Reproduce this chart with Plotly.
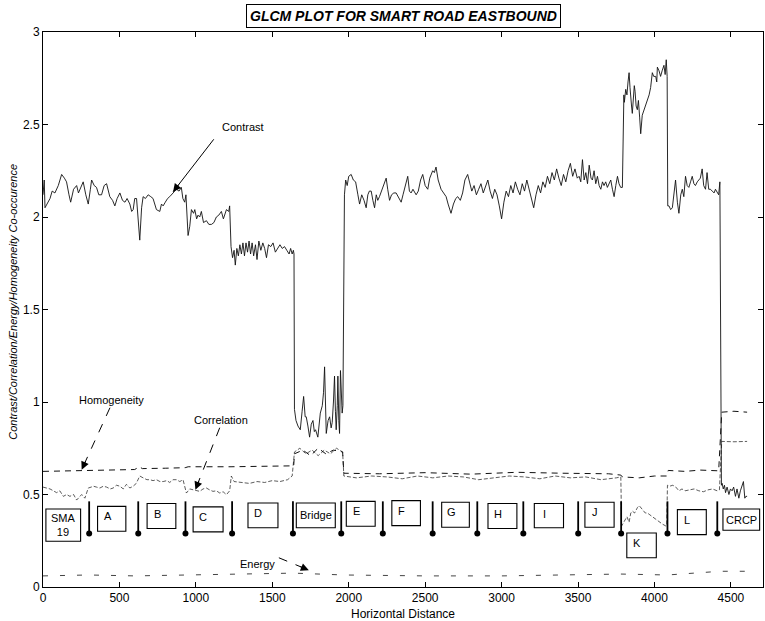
import math
import plotly.graph_objects as go

# ---------------- GLCM measures along the eastbound lane ----------------
contrast_x = [
    0, 8, 13, 30, 46, 60, 78, 100, 122, 140, 154, 170, 181, 200, 220, 232, 242, 263, 280, 296,
    310, 318, 335, 350, 365, 383, 400, 416, 437, 455, 470, 485, 503, 520, 536, 550, 568, 580, 590, 600,
    612, 622, 633, 645, 655, 670, 688, 705, 720, 742, 764, 775, 786, 800, 815, 829, 850, 873, 890, 905,
    915, 927, 935, 949, 960, 971, 985, 993, 1005, 1014, 1025, 1036, 1050, 1069, 1085, 1102, 1118, 1134, 1150, 1167,
    1180, 1200, 1215, 1221,
    1230, 1240, 1250, 1258, 1268, 1278, 1288, 1298, 1308, 1318, 1328, 1338, 1348, 1358, 1368, 1378, 1390, 1400,
    1412, 1425, 1438, 1450, 1462, 1475, 1490, 1505, 1520, 1535, 1550, 1565, 1580, 1595, 1610, 1620, 1630, 1638,
    1642, 1645, 1655, 1668, 1683, 1695, 1705, 1715, 1722, 1733, 1744, 1755, 1766, 1775, 1783, 1798, 1805, 1814,
    1827, 1835, 1842, 1848, 1853, 1865, 1875, 1885, 1892, 1900, 1907, 1913, 1918, 1925, 1929, 1935, 1940, 1946,
    1952, 1957, 1962,
    1968, 1972, 1980, 1990, 2000, 2016, 2030, 2045, 2060, 2071, 2085, 2100, 2114, 2125, 2135, 2147, 2158, 2169,
    2180, 2190, 2201, 2215, 2230, 2245, 2255, 2267, 2280, 2295, 2310, 2325, 2343, 2355, 2370, 2386, 2397, 2408,
    2420, 2441, 2455, 2470, 2484, 2500, 2517, 2530, 2549, 2560, 2571, 2585, 2604, 2620, 2637, 2650, 2669, 2685,
    2700, 2713, 2730, 2745, 2760, 2778, 2790, 2805, 2820, 2835, 2850, 2865, 2880, 2895, 2910, 2925, 2940, 2955,
    2970, 2985, 3000, 3015, 3030, 3045, 3060, 3075, 3090, 3105, 3120, 3135, 3150, 3165, 3180, 3195, 3210, 3225,
    3240, 3255, 3270, 3285, 3300, 3315, 3330, 3345, 3360, 3375, 3390, 3405, 3420, 3435, 3450, 3465, 3480, 3495,
    3507, 3518, 3529, 3540, 3551, 3562, 3573, 3585, 3594, 3605, 3616, 3627, 3638, 3649, 3660, 3670, 3681, 3692,
    3703, 3714, 3725, 3736, 3747, 3758, 3768, 3779, 3790,
    3800, 3803, 3812, 3820, 3827, 3834, 3840, 3845, 3850, 3855, 3862, 3868, 3873, 3880, 3888, 3895, 3903, 3910,
    3920, 3932, 3940, 3954, 3965, 3975, 3986, 3995, 4008, 4015, 4019, 4030, 4040, 4050, 4062, 4070, 4077, 4083,
    4087, 4095, 4106, 4117, 4128, 4138, 4150, 4160, 4172, 4182, 4192, 4203, 4214, 4225, 4236, 4247, 4258, 4268,
    4280, 4290, 4300, 4312, 4322, 4334, 4344, 4355, 4366, 4378, 4390, 4399, 4410, 4420, 4428,
    4433, 4438, 4443, 4450, 4458, 4465, 4475, 4487, 4497, 4508, 4518, 4530, 4540, 4552, 4562, 4574, 4582, 4591,
    4598, 4606,
]
contrast_y = [
    2.12, 2.20, 2.05, 2.08, 2.10, 2.14, 2.13, 2.17, 2.23, 2.21, 2.19, 2.12, 2.08, 2.15, 2.17, 2.13, 2.15, 2.19, 2.12, 2.07,
    2.15, 2.20, 2.17, 2.16, 2.12, 2.12, 2.17, 2.18, 2.11, 2.09, 2.06, 2.10, 2.13, 2.09, 2.08, 2.10, 2.07, 2.03, 2.04, 2.10,
    2.10, 2.00, 1.875, 2.05, 2.11, 2.10, 2.12, 2.11, 2.10, 2.04, 2.03, 2.07, 2.06, 2.08, 2.10, 2.11, 2.13, 2.15, 2.14, 2.16,
    2.10, 2.08, 2.12, 1.90, 1.95, 2.04, 2.02, 2.04, 1.99, 2.01, 2.00, 2.03, 1.97, 1.98, 1.96, 1.96, 1.97, 2.00, 2.01, 2.03,
    1.99, 2.04, 2.03, 2.06,
    1.84, 1.78, 1.82, 1.74, 1.83, 1.79, 1.85, 1.80, 1.86, 1.79, 1.86, 1.81, 1.87, 1.80, 1.86, 1.79, 1.85, 1.77,
    1.87, 1.82, 1.86, 1.83, 1.78, 1.85, 1.84, 1.86, 1.81, 1.83, 1.85, 1.83, 1.84, 1.82, 1.80, 1.83, 1.80, 1.82,
    1.80, 0.96, 0.90, 0.87, 0.85, 0.95, 1.03, 0.92, 0.92, 0.87, 0.81, 0.88, 0.90, 0.84, 0.85, 0.81, 0.86, 0.94,
    0.98, 1.05, 1.19, 0.95, 0.83, 0.90, 0.92, 0.86, 0.89, 1.00, 1.14, 0.95, 0.85, 0.98, 1.14, 0.90, 0.83, 1.17,
    0.95, 0.94, 0.98,
    2.10, 2.12, 2.20, 2.17, 2.22, 2.23, 2.20, 2.19, 2.12, 2.07, 2.12, 2.09, 2.05, 2.12, 2.14, 2.14, 2.09, 2.05,
    2.12, 2.09, 2.11, 2.14, 2.17, 2.21, 2.15, 2.09, 2.12, 2.13, 2.13, 2.11, 2.08, 2.12, 2.17, 2.22, 2.14, 2.13,
    2.15, 2.12, 2.14, 2.20, 2.23, 2.17, 2.15, 2.21, 2.25, 2.24, 2.27, 2.20, 2.15, 2.13, 2.11, 2.07, 2.02, 2.07,
    2.10, 2.11, 2.09, 2.13, 2.20, 2.23, 2.19, 2.14, 2.17, 2.12, 2.15, 2.18, 2.13, 2.16, 2.20, 2.14, 2.10, 2.15,
    2.12, 2.06, 1.99, 2.08, 2.14, 2.11, 2.17, 2.13, 2.19, 2.15, 2.12, 2.18, 2.14, 2.20, 2.15, 2.10, 2.05, 2.12,
    2.17, 2.13, 2.19, 2.16, 2.22, 2.18, 2.24, 2.20, 2.26, 2.21, 2.17, 2.23, 2.19, 2.25, 2.29, 2.22, 2.26, 2.21,
    2.22, 2.19, 2.31, 2.20, 2.24, 2.18, 2.28, 2.21, 2.20, 2.25, 2.18, 2.22, 2.17, 2.15, 2.19, 2.17, 2.19, 2.16,
    2.18, 2.20, 2.15, 2.11, 2.17, 2.22, 2.18, 2.16, 2.16,
    2.66, 2.62, 2.69, 2.66, 2.73, 2.78, 2.70, 2.63, 2.60, 2.56, 2.62, 2.71, 2.68, 2.60, 2.58, 2.63, 2.54, 2.45,
    2.55, 2.58, 2.60, 2.63, 2.66, 2.70, 2.78, 2.76, 2.76, 2.73, 2.81, 2.79, 2.76, 2.79, 2.82, 2.77, 2.85, 2.76,
    2.06, 2.06, 2.04, 2.05, 2.12, 2.20, 2.08, 2.02, 2.12, 2.15, 2.11, 2.22, 2.17, 2.16, 2.19, 2.22, 2.18, 2.17,
    2.19, 2.20, 2.21, 2.26, 2.17, 2.15, 2.24, 2.15, 2.15, 2.14, 2.13, 2.15, 2.13, 2.12, 2.19,
    0.90, 0.55, 0.56, 0.53, 0.55, 0.51, 0.54, 0.50, 0.53, 0.52, 0.54, 0.49, 0.53, 0.48, 0.52, 0.55, 0.57, 0.48,
    0.49, 0.49,
]

homogeneity_x = [0, 150, 300, 450, 600, 630, 650, 800, 930, 950, 1100, 1230, 1400, 1640,
                 1645, 1700, 1750, 1800, 1850, 1900, 1960,
                 1968, 2200, 2500, 2800, 3100, 3400, 3700, 3780,
                 3790, 3900, 4000, 4080,
                 4090, 4200, 4300, 4420,
                 4440, 4520, 4606]
homogeneity_y = [0.625, 0.628, 0.630, 0.632, 0.635, 0.650, 0.640, 0.642, 0.645, 0.650, 0.648, 0.650, 0.652, 0.655,
                 0.72, 0.74, 0.71, 0.75, 0.72, 0.74, 0.73,
                 0.615, 0.612, 0.618, 0.610, 0.620, 0.615, 0.612, 0.605,
                 0.595, 0.590, 0.600, 0.600,
                 0.630, 0.625, 0.632, 0.628,
                 0.945, 0.950, 0.945]

correlation_x = [0, 46, 89, 110, 133, 155, 176, 200, 220, 240, 253, 274, 296, 315, 329, 350, 372, 395, 416, 440,
                 459, 480, 503, 525, 546, 568, 590, 610, 633, 655, 680, 699, 720, 742, 765, 786, 810, 829, 850, 873,
                 895, 916, 938, 960, 982, 1003, 1025, 1047, 1069, 1090, 1112, 1134, 1156, 1178, 1200, 1221,
                 1232, 1250, 1300, 1350, 1400, 1450, 1500, 1550, 1600, 1630,
                 1645, 1680, 1720, 1760, 1800, 1840, 1880, 1920, 1960,
                 1968, 2050, 2150, 2250, 2350, 2450, 2550, 2650, 2750, 2850, 2950, 3050, 3150, 3250, 3350, 3450,
                 3550, 3650, 3750, 3780,
                 3785, 3800, 3820, 3834, 3845, 3856, 3870, 3889, 3900, 3940, 3954, 3970, 3986, 4000, 4019, 4035,
                 4052, 4074, 4080,
                 4085, 4100, 4120, 4140, 4160, 4180, 4200, 4230, 4260, 4290, 4320, 4350, 4380, 4410, 4425,
                 4440, 4520, 4606]
correlation_y = [0.54, 0.53, 0.51, 0.52, 0.49, 0.50, 0.49, 0.50, 0.47, 0.49, 0.50, 0.48, 0.535, 0.54, 0.545, 0.54, 0.535, 0.545, 0.54, 0.53,
                 0.535, 0.55, 0.545, 0.53, 0.555, 0.535, 0.545, 0.56, 0.60, 0.59, 0.58, 0.58, 0.575, 0.58, 0.57, 0.57, 0.575, 0.565, 0.58, 0.58,
                 0.57, 0.58, 0.508, 0.53, 0.526, 0.52, 0.517, 0.53, 0.535, 0.525, 0.517, 0.52, 0.508, 0.515, 0.499, 0.52,
                 0.60, 0.57, 0.565, 0.56, 0.57, 0.565, 0.575, 0.57, 0.58, 0.60,
                 0.73, 0.75, 0.72, 0.74, 0.71, 0.74, 0.72, 0.75, 0.73,
                 0.60, 0.59, 0.60, 0.595, 0.585, 0.60, 0.59, 0.60, 0.595, 0.58, 0.59, 0.60, 0.595, 0.585, 0.60, 0.59,
                 0.595, 0.58, 0.59, 0.595,
                 0.33, 0.35, 0.38, 0.35, 0.40, 0.41, 0.40, 0.43, 0.44, 0.40, 0.40, 0.39, 0.38, 0.37, 0.36, 0.35,
                 0.34, 0.33, 0.33,
                 0.55, 0.545, 0.55, 0.54, 0.52, 0.53, 0.52, 0.525, 0.53, 0.52, 0.515, 0.525, 0.53, 0.52, 0.525,
                 0.787, 0.785, 0.787]

energy_x = [0, 300, 600, 930, 1230, 1640, 1970, 2500, 3000, 3500, 3780, 4085, 4430, 4606]
energy_y = [0.060, 0.065, 0.060, 0.065, 0.070, 0.075, 0.065, 0.060, 0.060, 0.065, 0.070, 0.065, 0.085, 0.085]

# Section boundaries along the route and their labels
section_bounds = [302, 623, 932, 1237, 1635, 1951, 2223, 2549, 2841, 3142, 3501, 3782, 4085, 4411]
section_names = ["SMA<br>19", "A", "B", "C", "D", "Bridge", "E", "F", "G", "H", "I", "J", "K", "L", "CRCP"]

# ---------------- layout constants ----------------
W, H = 765, 621
M_L, M_R, M_T, M_B = 43, 2, 32, 34
X_MAX, Y_MAX = 4710, 3.0
PLOT_W, PLOT_H = W - M_L - M_R, H - M_T - M_B
PX_X = PLOT_W / X_MAX
PX_Y = PLOT_H / Y_MAX
FONT = "Liberation Sans, Arial, Helvetica, sans-serif"

# label-box geometry in axis units: x0, x1, y0, y1, centred text?
box_geom = [
    (19, 246, 0.247, 0.422, True),
    (357, 542, 0.301, 0.436, False),
    (681, 869, 0.316, 0.451, False),
    (982, 1178, 0.298, 0.433, False),
    (1341, 1537, 0.320, 0.454, False),
    (1657, 1912, 0.320, 0.454, True),
    (1984, 2173, 0.328, 0.463, False),
    (2282, 2469, 0.332, 0.467, False),
    (2608, 2789, 0.323, 0.458, False),
    (2911, 3100, 0.316, 0.451, False),
    (3214, 3405, 0.320, 0.451, False),
    (3545, 3736, 0.323, 0.458, False),
    (3819, 4012, 0.158, 0.292, False),
    (4150, 4339, 0.283, 0.418, False),
    (4448, 4688, 0.307, 0.422, True),
]

fig = go.Figure()

fig.add_trace(go.Scatter(x=energy_x, y=energy_y, mode="lines",
                         line=dict(color="#444444", width=1, dash="5px,12px"), hoverinfo="skip"))
fig.add_trace(go.Scatter(x=correlation_x, y=correlation_y, mode="lines",
                         line=dict(color="#333333", width=0.8, dash="4px,2px"), hoverinfo="skip"))
fig.add_trace(go.Scatter(x=homogeneity_x, y=homogeneity_y, mode="lines",
                         line=dict(color="#111111", width=1, dash="6px,5px"), hoverinfo="skip"))
fig.add_trace(go.Scatter(x=contrast_x, y=contrast_y, mode="lines",
                         line=dict(color="#111111", width=0.9), hoverinfo="skip"))

# boundary stems with a dot at the foot
stem_x, stem_y = [], []
for b in section_bounds:
    stem_x += [b, b, None]
    stem_y += [0.463, 0.289, None]
fig.add_trace(go.Scatter(x=stem_x, y=stem_y, mode="lines",
                         line=dict(color="black", width=1.8), hoverinfo="skip"))
fig.add_trace(go.Scatter(x=section_bounds, y=[0.289] * len(section_bounds), mode="markers",
                         marker=dict(color="black", size=6), hoverinfo="skip"))

shapes, annotations = [], []
for name, (x0, x1, y0, y1, centred) in zip(section_names, box_geom):
    shapes.append(dict(type="rect", xref="x", yref="y", x0=x0, x1=x1, y0=y0, y1=y1,
                       line=dict(color="black", width=1.1), fillcolor="white", layer="above"))
    if centred:
        annotations.append(dict(x=(x0 + x1) / 2, y=(y0 + y1) / 2, text=name, showarrow=False,
                                font=dict(family=FONT, size=11, color="black")))
    else:
        annotations.append(dict(x=x0, y=y1, xshift=10, yshift=-10, text=name, showarrow=False,
                                font=dict(family=FONT, size=11, color="black")))


def callout(label, text_xy, tail, head, dash):
    annotations.append(dict(x=text_xy[0], y=text_xy[1], text=label, showarrow=False,
                            font=dict(family=FONT, size=11, color="black")))
    shapes.append(dict(type="line", xref="x", yref="y", x0=tail[0], y0=tail[1], x1=head[0], y1=head[1],
                       line=dict(color="black", width=1, dash=dash)))
    dxp = (tail[0] - head[0]) * PX_X
    dyp = -(tail[1] - head[1]) * PX_Y
    ln = math.hypot(dxp, dyp)
    annotations.append(dict(x=head[0], y=head[1], ax=dxp / ln * 11, ay=dyp / ln * 11, text="",
                            showarrow=True, arrowhead=2, arrowsize=1.6, arrowwidth=1, arrowcolor="black"))


callout("Contrast", (1306, 2.485), (1117, 2.42), (851, 2.136), "solid")
callout("Homogeneity", (449, 1.012), (438, 0.969), (253, 0.634), "dash")
callout("Correlation", (1167, 0.904), (1156, 0.861), (997, 0.526), "dash")
callout("Energy", (1404, 0.127), (1543, 0.158), (1739, 0.091), "dash")

# title in a framed box
annotations.append(dict(xref="paper", yref="paper", x=0.5, y=1, yanchor="bottom", yshift=4,
                        text="<b><i>GLCM PLOT FOR SMART ROAD EASTBOUND</i></b>", showarrow=False,
                        font=dict(family=FONT, size=14, color="black"),
                        bordercolor="black", borderwidth=1, borderpad=3, bgcolor="white"))
# axis titles
annotations.append(dict(xref="paper", yref="paper", x=0.5, y=-(614 - (H - M_B)) / PLOT_H,
                        text="Horizontal Distance", showarrow=False, yanchor="middle",
                        font=dict(family=FONT, size=12, color="black")))
annotations.append(dict(xref="paper", yref="paper", x=-(M_L - 13) / PLOT_W, y=0.514,
                        text="<i>Contrast/Correlation/Energy/Homogeneity Co-occurence</i>",
                        showarrow=False, textangle=-90, xanchor="center",
                        font=dict(family=FONT, size=11, color="black")))

axis_common = dict(showgrid=False, zeroline=False, showline=True, linecolor="black", linewidth=1,
                   mirror="ticks", ticks="inside", ticklen=5, tickcolor="black",
                   tickfont=dict(family=FONT, size=12, color="black"))

fig.update_layout(
    width=W, height=H,
    margin=dict(l=M_L, r=M_R, t=M_T, b=M_B),
    paper_bgcolor="white", plot_bgcolor="white",
    showlegend=False,
    xaxis=dict(range=[0, X_MAX], tickvals=[0, 500, 1000, 1500, 2000, 2500, 3000, 3500, 4000, 4500],
               automargin=False, ticklabelstandoff=0, **axis_common),
    yaxis=dict(range=[0, Y_MAX], tickvals=[0, 0.5, 1, 1.5, 2, 2.5, 3],
               ticktext=["0", "0.5", "1", "1.5", "2", "2.5", "3"], automargin=False, **axis_common),
    shapes=shapes,
    annotations=annotations,
)

fig.write_html("out.html")
